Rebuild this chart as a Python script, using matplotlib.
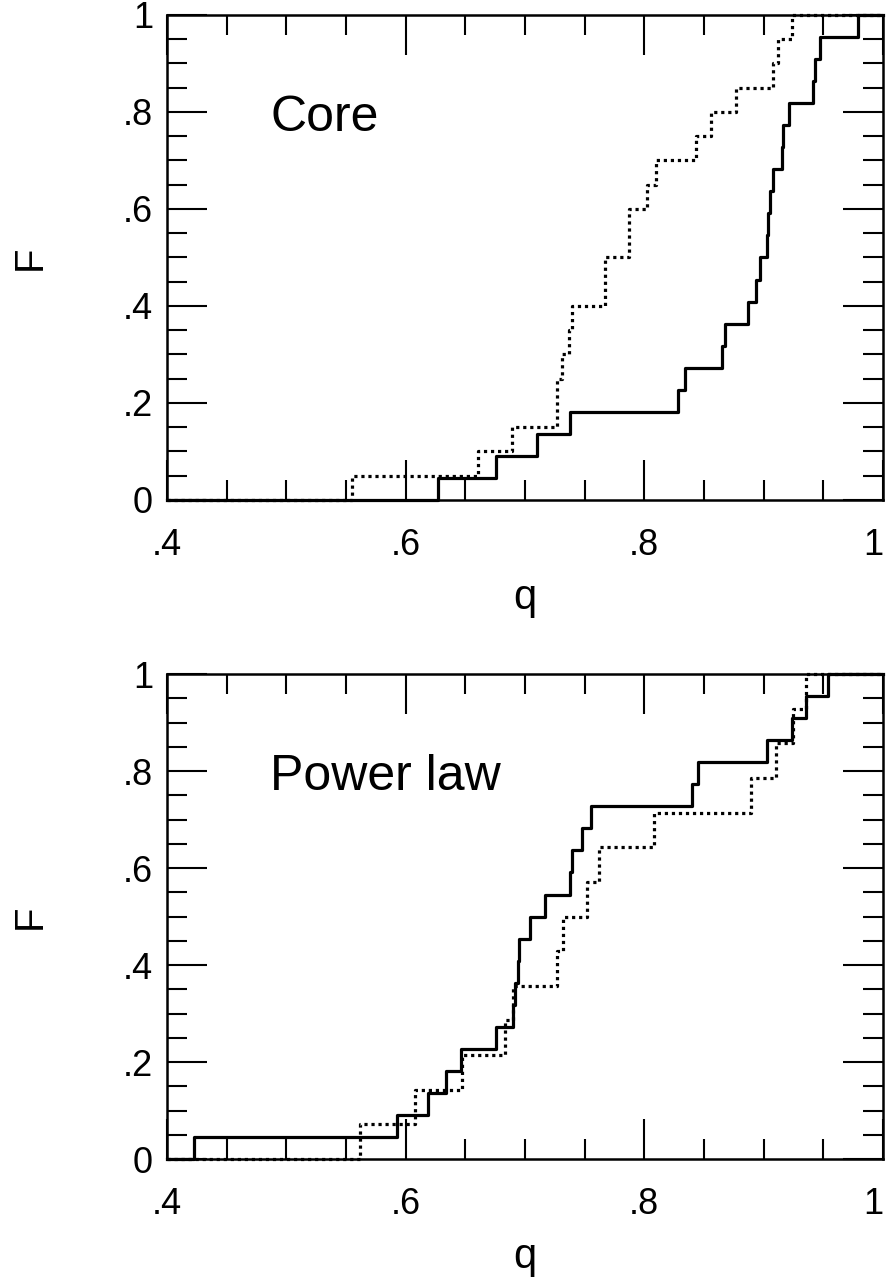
import numpy as np
import matplotlib
matplotlib.use("Agg")
import matplotlib.pyplot as plt
from matplotlib.ticker import MultipleLocator, FuncFormatter

plt.rcParams['font.family'] = ['Liberation Sans', 'DejaVu Sans']

# q values at which each cumulative distribution steps up by 1/n
core_solid = [0.627, 0.676, 0.710, 0.738, 0.828, 0.834, 0.865, 0.868, 0.887,
              0.894, 0.897, 0.9025, 0.9034, 0.905, 0.908, 0.915, 0.9165,
              0.9215, 0.9416, 0.943, 0.947, 0.979]
core_dotted = [0.555, 0.661, 0.689, 0.727, 0.727, 0.731, 0.737, 0.739, 0.767,
               0.767, 0.787, 0.787, 0.802, 0.810, 0.843, 0.856, 0.877, 0.908,
               0.912, 0.9235]
power_solid = [0.423, 0.593, 0.619, 0.634, 0.646, 0.676, 0.690, 0.692, 0.694,
               0.695, 0.704, 0.717, 0.738, 0.739, 0.748, 0.755, 0.840, 0.845,
               0.903, 0.9235, 0.9355, 0.954]
power_dotted = [0.562, 0.608, 0.647, 0.683, 0.690, 0.727, 0.732, 0.752, 0.762,
                0.808, 0.889, 0.910, 0.925, 0.9355]

panels = [("Core", core_solid, core_dotted),
          ("Power law", power_solid, power_dotted)]

xticks = [0.4, 0.6, 0.8, 1.0]
yticks = [0, 0.2, 0.4, 0.6, 0.8, 1.0]


def tick_fmt(v, pos):
    if abs(v) < 1e-9:
        return "0"
    if abs(v - 1) < 1e-9:
        return "1"
    return ("%.1f" % v).lstrip("0")


def cdf_steps(values):
    n = len(values)
    xs = [0.4] + sorted(values) + [1.0]
    ys = [0.0] + [k / n for k in range(1, n + 1)] + [1.0]
    return xs, ys


fig = plt.figure(figsize=(8.9, 12.81), dpi=100)
bottoms = [0.6097, 0.0952]

for (label, solid, dotted), b in zip(panels, bottoms):
    ax = fig.add_axes([0.1876, b, 0.8045, 0.3786])

    xs, ys = cdf_steps(dotted)
    ax.step(xs, ys, where="post", color="black", lw=2.3,
            linestyle=(0, (1, 1.2)), dash_capstyle="butt", clip_on=False)
    xs, ys = cdf_steps(solid)
    ax.step(xs, ys, where="post", color="black", lw=2.3, clip_on=False)

    ax.set_xlim(0.4, 1.0)
    ax.set_ylim(0, 1)
    ax.set_xticks(xticks)
    ax.set_yticks(yticks)
    ax.xaxis.set_minor_locator(MultipleLocator(0.05))
    ax.yaxis.set_minor_locator(MultipleLocator(0.05))
    ax.xaxis.set_major_formatter(FuncFormatter(tick_fmt))
    ax.yaxis.set_major_formatter(FuncFormatter(tick_fmt))

    ax.tick_params(which="both", direction="in", top=True, right=True,
                   width=1.5, labelsize=26)
    ax.tick_params(which="major", length=29)
    ax.tick_params(which="minor", length=14.5)
    ax.tick_params(axis="x", which="major", pad=20)
    ax.tick_params(axis="y", which="major", pad=10)
    for sp in ax.spines.values():
        sp.set_linewidth(1.8)

    # keep the "1" at the right end inside the figure
    fig.canvas.draw()
    ax.get_xticklabels()[-1].set_horizontalalignment("right")
    ax.get_xticklabels()[-1].set_x(1.008)

    ax.text(0.5, -0.2247, "q", transform=ax.transAxes, fontsize=30,
            ha="center", va="baseline")
    ax.text(-0.176, 0.5, "F", transform=ax.transAxes, fontsize=29,
            rotation=90, rotation_mode="anchor", ha="center", va="baseline")
    ax.text(0.144, 0.761, label, transform=ax.transAxes, fontsize=36,
            ha="left", va="baseline")

fig.savefig("out.png", dpi=100)
